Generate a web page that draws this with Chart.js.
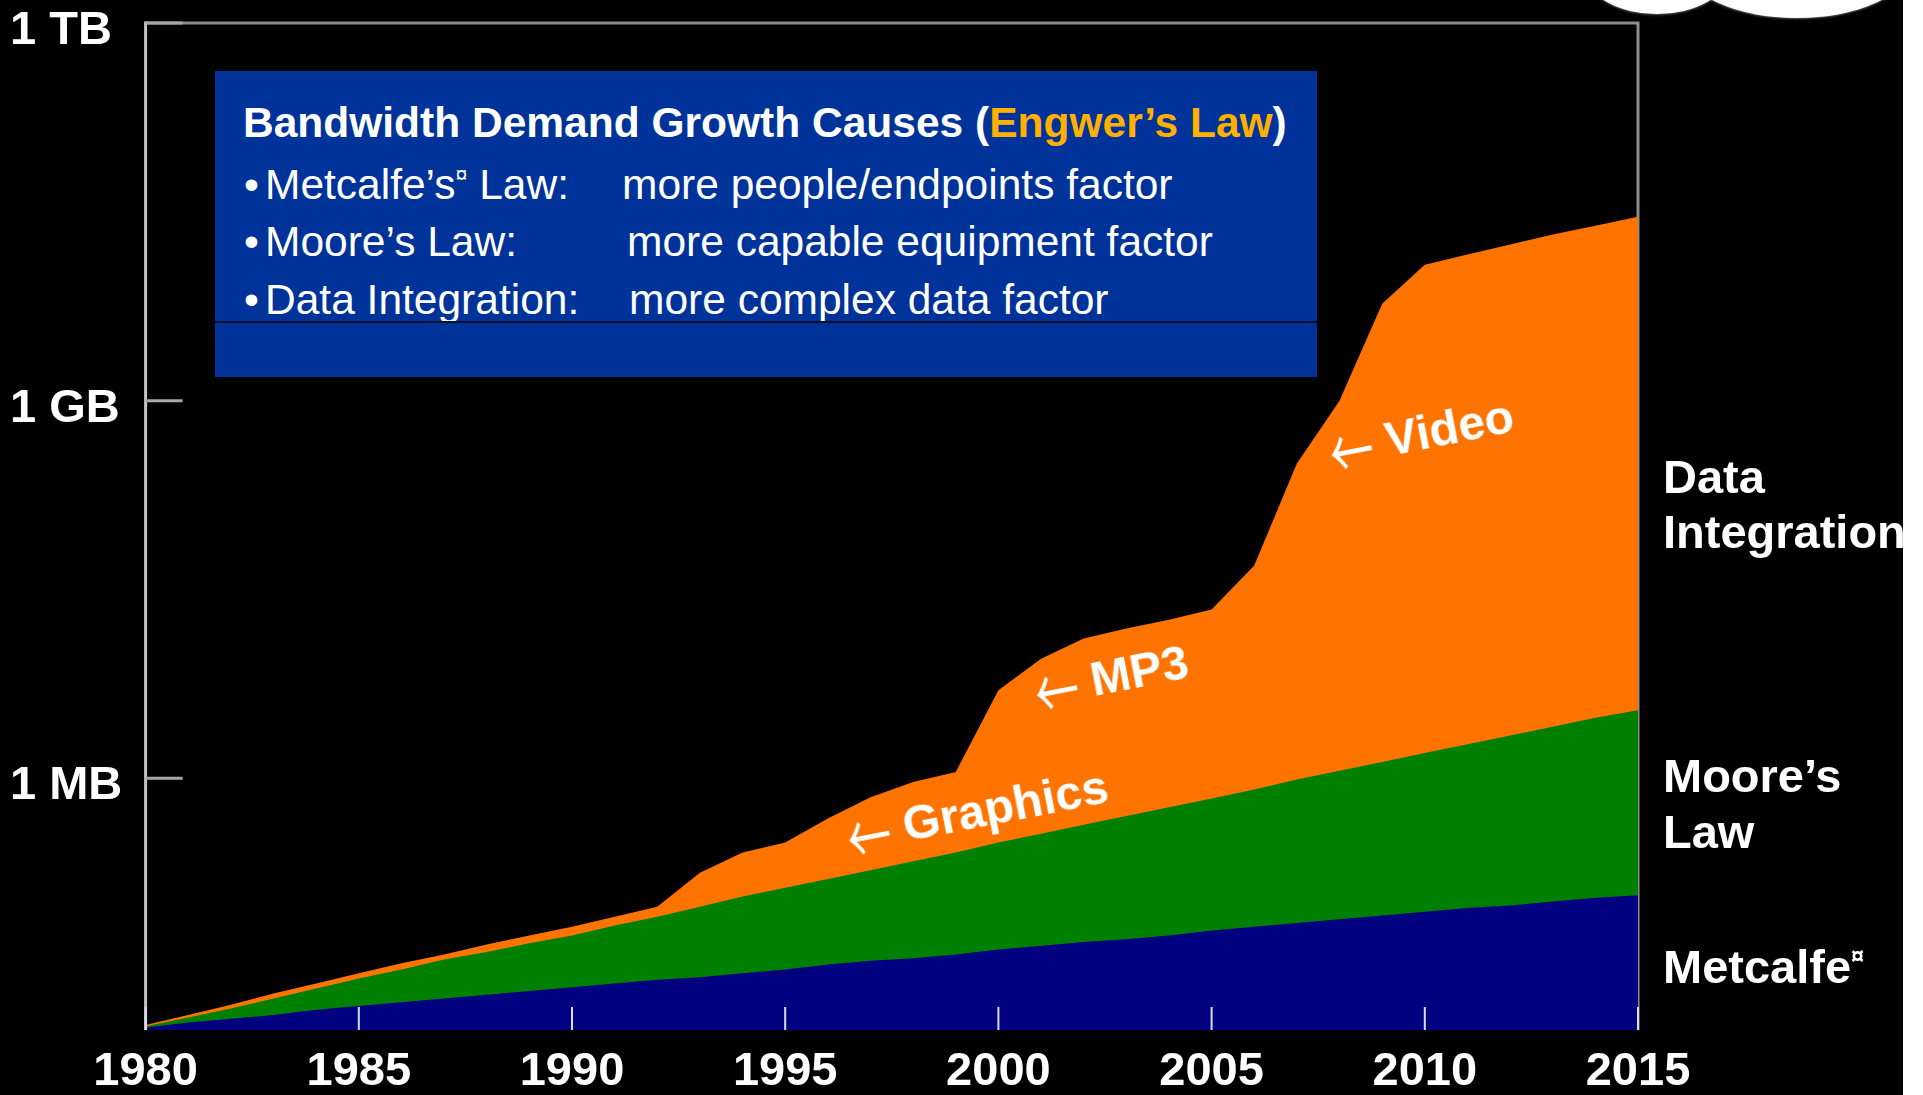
<!DOCTYPE html>
<html>
<head>
<meta charset="utf-8">
<title>Bandwidth Demand Growth</title>
<script src="https://cdn.jsdelivr.net/npm/chart.js@4.4.1/dist/chart.umd.min.js"></script>
<style>
  html, body { margin: 0; padding: 0; background: #fff; }
  #stage {
    position: relative; width: 1903px; height: 1095px; background: #000;
    overflow: hidden; color: #fff;
    font-family: "Liberation Sans", Arial, sans-serif;
  }
  #chart { position: absolute; left: 0; top: 0; }

  .box { position: absolute; left: 215px; top: 71px; width: 1102px; height: 306px; background: #003399; }
  .box .rule { position: absolute; left: 0; right: 0; top: 250px; height: 2px; background: #06102a; }
  .box .ln { position: absolute; left: 0; width: 100%; height: 42px; font-size: 42.5px; line-height: 42px; white-space: nowrap; }
  .box .ln > span { position: absolute; top: 0; }
  .box .title { font-weight: bold; left: 28px; }
  .engwer { color: #ffb000; }
  .sup { font-size: 0.5em; line-height: 0; position: relative; top: -0.8em; }

  .side { position: absolute; left: 1663px; font-size: 47px; line-height: 47px; font-weight: bold; white-space: nowrap; }

  .ann {
    position: absolute; font-size: 48px; line-height: 48px; font-weight: bold; white-space: nowrap;
    transform: translate(-50%, -50%) rotate(-11deg);
  }
  .ann .arr {
    display: inline-block; transform: scaleY(1.6) translateY(2px);
    font-family: "Noto Sans CJK JP", "DejaVu Sans", sans-serif; font-weight: normal; font-size: 44px;
  }

  .cloud { position: absolute; background: #fff; border-radius: 50%; box-shadow: 0 0 3px #bbb; }
</style>
</head>
<body>
<div id="stage">
  <canvas id="chart" width="1903" height="1095"></canvas>

  <div class="box">
    <div class="ln" style="top:31px"><span class="title">Bandwidth Demand Growth Causes (<span class="engwer">Engwer’s Law</span>)</span></div>
    <div class="ln" style="top:93px"><span style="left:29px">•</span><span style="left:50px">Metcalfe’s<span class="sup">¤</span> Law:</span><span style="left:407px">more people/endpoints factor</span></div>
    <div class="ln" style="top:150px"><span style="left:29px">•</span><span style="left:50px">Moore’s Law:</span><span style="left:412px">more capable equipment factor</span></div>
    <div class="ln" style="top:208px"><span style="left:29px">•</span><span style="left:50px">Data Integration:</span><span style="left:414px">more complex data factor</span></div>
    <div class="rule"></div>
  </div>

  <div class="side" style="top:453px">Data</div>
  <div class="side" style="top:508px">Integration</div>
  <div class="side" style="top:752px">Moore’s</div>
  <div class="side" style="top:808px">Law</div>
  <div class="side" style="top:943px">Metcalfe<span class="sup">¤</span></div>

  <div class="ann" style="left:977px; top:810px"><span class="arr">←</span> Graphics</div>
  <div class="ann" style="left:1111px; top:675px"><span class="arr">←</span> MP3</div>
  <div class="ann" style="left:1421px; top:432px"><span class="arr">←</span> Video</div>

  <div class="cloud" style="left:1587px; top:-66px; width:140px; height:80px"></div>
  <div class="cloud" style="left:1687px; top:-82px; width:220px; height:100px"></div>
</div>

<script>
// years on the x axis
const years = [1980, 1981, 1982, 1983, 1984, 1985, 1986, 1987, 1988, 1989,
               1990, 1991, 1992, 1993, 1994, 1995, 1996, 1997, 1998, 1999,
               2000, 2001, 2002, 2003, 2004, 2005, 2006, 2007, 2008, 2009,
               2010, 2011, 2012, 2013, 2014, 2015];

// upper edge of each band, in log10(bytes)
const metcalfeTop = [4.02, 4.06, 4.09, 4.12, 4.16, 4.19, 4.22, 4.25, 4.28, 4.31,
                     4.34, 4.37, 4.40, 4.42, 4.45, 4.48, 4.52, 4.55, 4.57, 4.60,
                     4.64, 4.67, 4.70, 4.72, 4.75, 4.79, 4.82, 4.85, 4.88, 4.91,
                     4.94, 4.97, 4.99, 5.02, 5.05, 5.07];
const mooreTop = [4.03, 4.10, 4.17, 4.25, 4.33, 4.41, 4.48, 4.56, 4.62, 4.69,
                  4.75, 4.83, 4.90, 4.98, 5.06, 5.13, 5.20, 5.27, 5.34, 5.41,
                  5.49, 5.56, 5.63, 5.70, 5.77, 5.84, 5.91, 5.99, 6.06, 6.13,
                  6.20, 6.27, 6.34, 6.41, 6.48, 6.54];
const dataIntegrationTop = [4.04, 4.12, 4.20, 4.29, 4.37, 4.45, 4.53, 4.60, 4.68, 4.75,
                            4.82, 4.90, 4.98, 5.25, 5.41, 5.49, 5.68, 5.85, 5.97, 6.05,
                            6.70, 6.95, 7.11, 7.19, 7.26, 7.34, 7.69, 8.50, 9.00, 9.77,
                            10.08, 10.16, 10.24, 10.32, 10.39, 10.46];

// y axis ticks (log10 bytes) and their labels
const yTickValues = [6, 9, 12];
const yTickLabels = ['1 MB', '1 GB', '1 TB'];

const FONT = 'Liberation Sans';

function toPoints(values) {
    return years.map((yr, i) => ({ x: yr, y: values[i] }));
}

// frame, axis line and inward tick marks
const framePlugin = {
    id: 'frame',
    beforeDatasetsDraw(chart) {
        const { ctx, chartArea: a } = chart;
        ctx.save();
        ctx.strokeStyle = '#8c8c8c';
        ctx.lineWidth = 3;
        ctx.beginPath();
        ctx.moveTo(a.left, a.top);
        ctx.lineTo(a.right, a.top);
        ctx.lineTo(a.right, a.bottom);
        ctx.stroke();
        ctx.restore();
    },
    afterDatasetsDraw(chart) {
        const { ctx, chartArea: a, scales } = chart;
        ctx.save();
        ctx.strokeStyle = '#c4c4c4';
        ctx.lineWidth = 3;
        ctx.beginPath();
        ctx.moveTo(a.left, a.top - 1.5);
        ctx.lineTo(a.left, a.bottom);
        ctx.stroke();

        ctx.strokeStyle = '#a8a8a8';
        scales.y.ticks.forEach(t => {
            const py = scales.y.getPixelForValue(t.value);
            ctx.beginPath();
            ctx.moveTo(a.left, py);
            ctx.lineTo(a.left + 37, py);
            ctx.stroke();
        });

        ctx.strokeStyle = '#dcdcf4';
        ctx.lineWidth = 2;
        scales.x.ticks.forEach(t => {
            const px = scales.x.getPixelForValue(t.value);
            ctx.beginPath();
            ctx.moveTo(px, a.bottom);
            ctx.lineTo(px, a.bottom - 23);
            ctx.stroke();
        });
        ctx.restore();
    }
};

const ctx = document.getElementById('chart').getContext('2d');

new Chart(ctx, {
    type: 'line',
    data: {
        datasets: [{
            label: 'Metcalfe',
            data: toPoints(metcalfeTop),
            backgroundColor: '#000080',
            borderColor: '#000080',
            fill: 'start'
        }, {
            label: "Moore's Law",
            data: toPoints(mooreTop),
            backgroundColor: '#008000',
            borderColor: '#008000',
            fill: 'start'
        }, {
            label: 'Data Integration',
            data: toPoints(dataIntegrationTop),
            backgroundColor: '#ff7300',
            borderColor: '#ff7300',
            fill: 'start'
        }]
    },
    options: {
        responsive: false,
        animation: false,
        devicePixelRatio: 1,
        layout: { padding: { left: 10, top: 23, right: 265, bottom: 0 } },
        elements: {
            point: { radius: 0 },
            line: { borderWidth: 0, tension: 0 }
        },
        plugins: {
            legend: { display: false },
            tooltip: { enabled: false }
        },
        scales: {
            x: {
                type: 'linear',
                min: 1980,
                max: 2015,
                grid: { display: false, drawTicks: false },
                border: { display: false },
                ticks: {
                    stepSize: 5,
                    maxRotation: 0,
                    padding: 14,
                    color: '#fff',
                    font: { family: FONT, size: 47, weight: 'bold' },
                    callback: value => value.toString()
                },
                afterFit(scale) {
                    scale.height = 65;
                    scale.paddingLeft = 0;
                    scale.paddingRight = 0;
                }
            },
            y: {
                type: 'linear',
                min: 4,
                max: 12,
                grid: { display: false, drawTicks: false },
                border: { display: false },
                afterBuildTicks(scale) {
                    scale.ticks = yTickValues.map(v => ({ value: v }));
                },
                ticks: {
                    autoSkip: false,
                    crossAlign: 'far',
                    padding: 0,
                    labelOffset: 8,
                    color: '#fff',
                    font: { family: FONT, size: 47, weight: 'bold' },
                    callback: (value, index) => yTickLabels[index]
                },
                afterFit(scale) {
                    scale.width = 135.6;
                    scale.paddingTop = 0;
                    scale.paddingBottom = 0;
                }
            }
        }
    },
    plugins: [framePlugin]
});
</script>
</body>
</html>
